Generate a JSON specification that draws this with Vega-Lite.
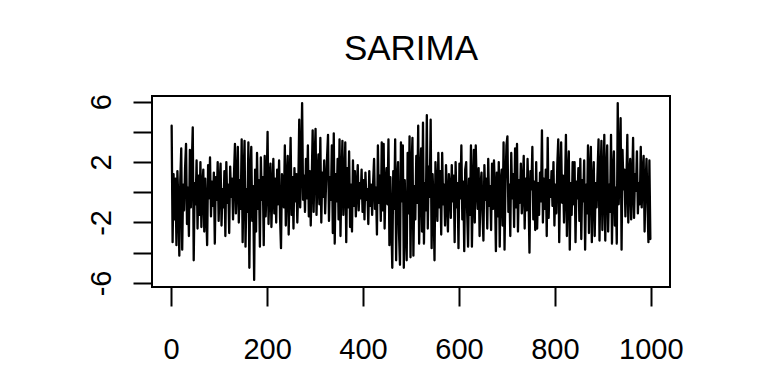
{
"$schema": "https://vega.github.io/schema/vega-lite/v6.json",
"width": 518, "height": 191,
"autosize": {"type": "none"},
"padding": {"left": 152, "top": 96, "right": 98, "bottom": 97},
"background": "white",
"title": {"text": "SARIMA", "fontSize": 35, "font": "Liberation Sans", "fontWeight": "normal", "color": "black", "anchor": "middle", "frame": "group", "baseline": "alphabetic", "offset": -1},
"data": {"values": [
{"t":1,"v":4.4},{"t":3,"v":-3.3},{"t":5,"v":1.2},{"t":7,"v":-1.8},{"t":9,"v":0.9},{"t":11,"v":-3.5},{"t":13,"v":1.4},{"t":15,"v":-0.6},{"t":17,"v":-4.2},{"t":19,"v":0.8},
{"t":21,"v":2.9},{"t":23,"v":-3.8},{"t":25,"v":0.5},{"t":27,"v":-1.2},{"t":29,"v":1.6},{"t":31,"v":3.2},{"t":33,"v":-2.1},{"t":35,"v":0.3},{"t":37,"v":-2.9},{"t":39,"v":2.8},
{"t":41,"v":-1.0},{"t":43,"v":1.8},{"t":45,"v":4.3},{"t":47,"v":-4.5},{"t":49,"v":0.6},{"t":51,"v":-0.8},{"t":53,"v":2.1},{"t":55,"v":-2.4},{"t":57,"v":1.1},{"t":59,"v":-1.5},
{"t":61,"v":2.0},{"t":63,"v":-2.3},{"t":65,"v":0.4},{"t":67,"v":1.5},{"t":69,"v":-2.6},{"t":71,"v":0.9},{"t":73,"v":-1.2},{"t":75,"v":-3.5},{"t":77,"v":1.8},{"t":79,"v":-0.4},
{"t":81,"v":2.3},{"t":83,"v":-1.6},{"t":85,"v":0.7},{"t":87,"v":-0.9},{"t":89,"v":1.3},{"t":91,"v":-3.4},{"t":93,"v":1.0},{"t":95,"v":-0.5},{"t":97,"v":2.0},{"t":99,"v":-1.9},
{"t":101,"v":0.6},{"t":103,"v":1.9},{"t":105,"v":-2.2},{"t":107,"v":0.2},{"t":109,"v":-1.0},{"t":111,"v":1.4},{"t":113,"v":-2.9},{"t":115,"v":2.0},{"t":117,"v":-0.7},{"t":119,"v":0.5},
{"t":121,"v":-2.7},{"t":123,"v":1.7},{"t":125,"v":-0.3},{"t":127,"v":0.9},{"t":129,"v":-1.8},{"t":131,"v":1.2},{"t":133,"v":3.2},{"t":135,"v":-1.4},{"t":137,"v":0.4},{"t":139,"v":3.0},
{"t":141,"v":-2.0},{"t":143,"v":0.8},{"t":145,"v":-1.1},{"t":147,"v":3.5},{"t":149,"v":-3.3},{"t":151,"v":1.0},{"t":153,"v":3.4},{"t":155,"v":-3.6},{"t":157,"v":0.2},{"t":159,"v":-1.3},
{"t":161,"v":3.3},{"t":163,"v":-5.0},{"t":165,"v":1.2},{"t":167,"v":3.0},{"t":169,"v":-1.9},{"t":171,"v":0.4},{"t":173,"v":-5.8},{"t":175,"v":1.5},{"t":177,"v":-2.6},{"t":179,"v":2.6},
{"t":181,"v":-1.1},{"t":183,"v":0.8},{"t":185,"v":-3.6},{"t":187,"v":2.3},{"t":189,"v":-0.5},{"t":191,"v":1.0},{"t":193,"v":-3.5},{"t":195,"v":2.4},{"t":197,"v":-1.6},{"t":199,"v":0.3},
{"t":201,"v":4.0},{"t":203,"v":-2.1},{"t":205,"v":0.6},{"t":207,"v":1.9},{"t":209,"v":-2.3},{"t":211,"v":0.1},{"t":213,"v":2.2},{"t":215,"v":-1.4},{"t":217,"v":0.9},{"t":219,"v":-2.0},
{"t":221,"v":1.5},{"t":223,"v":-0.8},{"t":225,"v":2.1},{"t":227,"v":-1.7},{"t":229,"v":-3.7},{"t":231,"v":1.2},{"t":233,"v":0.3},{"t":235,"v":-1.0},{"t":237,"v":3.1},{"t":239,"v":-2.2},
{"t":241,"v":0.7},{"t":243,"v":2.4},{"t":245,"v":-2.8},{"t":247,"v":0.5},{"t":249,"v":3.6},{"t":251,"v":-1.5},{"t":253,"v":1.0},{"t":255,"v":-2.4},{"t":257,"v":1.6},{"t":259,"v":-0.6},
{"t":261,"v":1.2},{"t":263,"v":-2.0},{"t":265,"v":0.3},{"t":267,"v":4.8},{"t":269,"v":-1.0},{"t":271,"v":1.8},{"t":273,"v":5.9},{"t":275,"v":-0.5},{"t":277,"v":1.1},{"t":279,"v":-1.3},
{"t":281,"v":2.2},{"t":283,"v":-0.4},{"t":285,"v":3.1},{"t":287,"v":-1.6},{"t":289,"v":1.4},{"t":291,"v":-2.2},{"t":293,"v":0.8},{"t":295,"v":4.1},{"t":297,"v":-1.3},{"t":299,"v":2.0},
{"t":301,"v":4.2},{"t":303,"v":-1.5},{"t":305,"v":0.9},{"t":307,"v":2.5},{"t":309,"v":-0.8},{"t":311,"v":3.6},{"t":313,"v":-2.0},{"t":315,"v":1.3},{"t":317,"v":-0.3},{"t":319,"v":2.1},
{"t":321,"v":-1.4},{"t":323,"v":0.6},{"t":325,"v":2.3},{"t":327,"v":3.8},{"t":329,"v":-1.9},{"t":331,"v":1.0},{"t":333,"v":-0.5},{"t":335,"v":3.1},{"t":337,"v":-2.7},{"t":339,"v":3.9},
{"t":341,"v":-3.4},{"t":343,"v":1.2},{"t":345,"v":-0.6},{"t":347,"v":2.2},{"t":349,"v":-1.8},{"t":351,"v":3.5},{"t":353,"v":-2.9},{"t":355,"v":0.8},{"t":357,"v":3.4},{"t":359,"v":-1.5},
{"t":361,"v":0.4},{"t":363,"v":3.3},{"t":365,"v":-3.3},{"t":367,"v":1.6},{"t":369,"v":-1.0},{"t":371,"v":2.7},{"t":373,"v":-2.3},{"t":375,"v":0.5},{"t":377,"v":-2.6},{"t":379,"v":2.1},
{"t":381,"v":-0.9},{"t":383,"v":1.4},{"t":385,"v":-1.6},{"t":387,"v":0.3},{"t":389,"v":1.8},{"t":391,"v":-1.2},{"t":393,"v":0.6},{"t":395,"v":-0.4},{"t":397,"v":1.5},{"t":399,"v":-1.3},
{"t":401,"v":0.8},{"t":403,"v":-1.8},{"t":405,"v":1.3},{"t":407,"v":-0.5},{"t":409,"v":0.2},{"t":411,"v":-2.1},{"t":413,"v":1.4},{"t":415,"v":-0.9},{"t":417,"v":0.5},{"t":419,"v":-1.5},
{"t":421,"v":0.6},{"t":423,"v":2.2},{"t":425,"v":-1.1},{"t":427,"v":0.3},{"t":429,"v":-2.8},{"t":431,"v":3.1},{"t":433,"v":-0.7},{"t":435,"v":1.1},{"t":437,"v":-1.9},{"t":439,"v":3.3},
{"t":441,"v":-1.2},{"t":443,"v":3.2},{"t":445,"v":-2.4},{"t":447,"v":0.5},{"t":449,"v":1.6},{"t":451,"v":-0.8},{"t":453,"v":3.5},{"t":455,"v":-3.5},{"t":457,"v":1.0},{"t":459,"v":-2.0},
{"t":461,"v":-5.0},{"t":463,"v":1.4},{"t":465,"v":-1.1},{"t":467,"v":3.5},{"t":469,"v":-4.5},{"t":471,"v":0.7},{"t":473,"v":2.0},{"t":475,"v":-2.7},{"t":477,"v":-4.8},{"t":479,"v":3.3},
{"t":481,"v":-0.6},{"t":483,"v":3.1},{"t":485,"v":-5.0},{"t":487,"v":0.8},{"t":489,"v":-2.2},{"t":491,"v":-4.5},{"t":493,"v":2.6},{"t":495,"v":-1.4},{"t":497,"v":3.7},{"t":499,"v":-4.3},
{"t":501,"v":1.5},{"t":503,"v":3.6},{"t":505,"v":-4.2},{"t":507,"v":0.4},{"t":509,"v":-1.8},{"t":511,"v":2.4},{"t":513,"v":-0.7},{"t":515,"v":4.4},{"t":517,"v":-3.4},{"t":519,"v":1.0},
{"t":521,"v":2.9},{"t":523,"v":-2.6},{"t":525,"v":4.6},{"t":527,"v":-3.4},{"t":529,"v":0.6},{"t":531,"v":-1.2},{"t":533,"v":5.1},{"t":535,"v":-2.4},{"t":537,"v":1.7},{"t":539,"v":-0.3},
{"t":541,"v":4.8},{"t":543,"v":-3.7},{"t":545,"v":1.2},{"t":547,"v":-0.6},{"t":549,"v":-4.5},{"t":551,"v":2.0},{"t":553,"v":0.3},{"t":555,"v":-1.9},{"t":557,"v":2.6},{"t":559,"v":-1.0},
{"t":561,"v":1.4},{"t":563,"v":-2.8},{"t":565,"v":2.6},{"t":567,"v":-0.8},{"t":569,"v":0.5},{"t":571,"v":-2.2},{"t":573,"v":1.8},{"t":575,"v":-0.4},{"t":577,"v":-2.6},{"t":579,"v":1.2},
{"t":581,"v":0.3},{"t":583,"v":-1.7},{"t":585,"v":1.8},{"t":587,"v":-0.6},{"t":589,"v":1.1},{"t":591,"v":-3.3},{"t":593,"v":2.0},{"t":595,"v":-1.0},{"t":597,"v":0.6},{"t":599,"v":-3.7},
{"t":601,"v":1.9},{"t":603,"v":-0.4},{"t":605,"v":3.1},{"t":607,"v":-1.8},{"t":609,"v":0.7},{"t":611,"v":-3.9},{"t":613,"v":1.5},{"t":615,"v":2.0},{"t":617,"v":-1.2},{"t":619,"v":-3.6},
{"t":621,"v":0.9},{"t":623,"v":-1.5},{"t":625,"v":3.1},{"t":627,"v":-3.6},{"t":629,"v":0.2},{"t":631,"v":2.8},{"t":633,"v":-2.0},{"t":635,"v":3.1},{"t":637,"v":0.4},{"t":639,"v":-1.1},
{"t":641,"v":1.6},{"t":643,"v":-2.9},{"t":645,"v":0.5},{"t":647,"v":1.3},{"t":649,"v":-1.4},{"t":651,"v":-3.2},{"t":653,"v":1.8},{"t":655,"v":-0.5},{"t":657,"v":0.9},{"t":659,"v":-2.4},
{"t":661,"v":2.2},{"t":663,"v":-0.9},{"t":665,"v":0.4},{"t":667,"v":-2.5},{"t":669,"v":1.9},{"t":671,"v":-1.1},{"t":673,"v":2.1},{"t":675,"v":0.1},{"t":677,"v":-3.9},{"t":679,"v":1.3},
{"t":681,"v":-1.6},{"t":683,"v":2.0},{"t":685,"v":-3.6},{"t":687,"v":0.7},{"t":689,"v":1.5},{"t":691,"v":-2.2},{"t":693,"v":3.3},{"t":695,"v":-3.8},{"t":697,"v":0.6},{"t":699,"v":3.1},
{"t":701,"v":3.7},{"t":703,"v":-1.3},{"t":705,"v":0.5},{"t":707,"v":-2.9},{"t":709,"v":2.6},{"t":711,"v":-0.4},{"t":713,"v":1.2},{"t":715,"v":-2.3},{"t":717,"v":2.9},{"t":719,"v":-1.0},
{"t":721,"v":3.2},{"t":723,"v":-2.6},{"t":725,"v":0.8},{"t":727,"v":-0.7},{"t":729,"v":1.9},{"t":731,"v":-1.4},{"t":733,"v":0.3},{"t":735,"v":2.4},{"t":737,"v":-2.4},{"t":739,"v":0.9},
{"t":741,"v":-1.2},{"t":743,"v":2.2},{"t":745,"v":-0.3},{"t":747,"v":-4.0},{"t":749,"v":1.4},{"t":751,"v":0.2},{"t":753,"v":3.0},{"t":755,"v":-1.8},{"t":757,"v":0.7},{"t":759,"v":-2.5},
{"t":761,"v":2.0},{"t":763,"v":-2.4},{"t":765,"v":0.6},{"t":767,"v":-1.5},{"t":769,"v":1.3},{"t":771,"v":-0.6},{"t":773,"v":4.1},{"t":775,"v":-2.0},{"t":777,"v":0.9},{"t":779,"v":-1.1},
{"t":781,"v":1.5},{"t":783,"v":-2.9},{"t":785,"v":3.6},{"t":787,"v":-1.7},{"t":789,"v":0.8},{"t":791,"v":-0.3},{"t":793,"v":1.4},{"t":795,"v":-0.9},{"t":797,"v":2.0},{"t":799,"v":-2.2},
{"t":801,"v":0.5},{"t":803,"v":-1.4},{"t":805,"v":1.8},{"t":807,"v":3.5},{"t":809,"v":-3.3},{"t":811,"v":0.9},{"t":813,"v":3.3},{"t":815,"v":-0.7},{"t":817,"v":1.1},{"t":819,"v":-2.0},
{"t":821,"v":0.3},{"t":823,"v":3.8},{"t":825,"v":-2.9},{"t":827,"v":1.0},{"t":829,"v":2.7},{"t":831,"v":-3.8},{"t":833,"v":0.6},{"t":835,"v":-1.5},{"t":837,"v":2.0},{"t":839,"v":-0.8},
{"t":841,"v":2.0},{"t":843,"v":-3.3},{"t":845,"v":0.7},{"t":847,"v":-0.4},{"t":849,"v":1.6},{"t":851,"v":-1.9},{"t":853,"v":2.2},{"t":855,"v":-3.1},{"t":857,"v":0.8},{"t":859,"v":-0.6},
{"t":861,"v":2.1},{"t":863,"v":-3.8},{"t":865,"v":0.5},{"t":867,"v":-1.4},{"t":869,"v":3.1},{"t":871,"v":-2.7},{"t":873,"v":1.2},{"t":875,"v":3.0},{"t":877,"v":-3.3},{"t":879,"v":0.4},
{"t":881,"v":2.0},{"t":883,"v":-2.9},{"t":885,"v":0.6},{"t":887,"v":-1.0},{"t":889,"v":1.4},{"t":891,"v":3.5},{"t":893,"v":-3.2},{"t":895,"v":0.9},{"t":897,"v":3.4},{"t":899,"v":-2.5},
{"t":901,"v":0.4},{"t":903,"v":3.8},{"t":905,"v":-3.2},{"t":907,"v":1.1},{"t":909,"v":3.1},{"t":911,"v":-2.6},{"t":913,"v":0.5},{"t":915,"v":-1.3},{"t":917,"v":3.8},{"t":919,"v":-3.4},
{"t":921,"v":1.2},{"t":923,"v":2.7},{"t":925,"v":-2.2},{"t":927,"v":0.3},{"t":929,"v":-3.4},{"t":931,"v":5.9},{"t":933,"v":-0.8},{"t":935,"v":1.6},{"t":937,"v":4.9},{"t":939,"v":-3.8},
{"t":941,"v":2.8},{"t":943,"v":0.2},{"t":945,"v":1.5},{"t":947,"v":-1.6},{"t":949,"v":0.6},{"t":951,"v":3.8},{"t":953,"v":-2.0},{"t":955,"v":1.0},{"t":957,"v":2.2},{"t":959,"v":-1.8},
{"t":961,"v":0.4},{"t":963,"v":3.6},{"t":965,"v":-1.7},{"t":967,"v":1.2},{"t":969,"v":0.1},{"t":971,"v":2.7},{"t":973,"v":-1.4},{"t":975,"v":0.6},{"t":977,"v":-0.8},{"t":979,"v":3.0},
{"t":981,"v":-1.0},{"t":983,"v":1.3},{"t":985,"v":2.4},{"t":987,"v":-2.6},{"t":989,"v":0.5},{"t":991,"v":2.2},{"t":993,"v":-0.7},{"t":995,"v":-3.3},{"t":997,"v":2.1},{"t":999,"v":-3.1}
]},
"mark": {"type": "line", "color": "black", "strokeWidth": 2.3, "strokeJoin": "round", "strokeCap": "round", "interpolate": "linear", "clip": true},
"encoding": {
  "x": {"field": "t", "type": "quantitative",
    "scale": {"domain": [-39.96, 1039.96], "nice": false, "zero": false},
    "axis": {"values": [0, 200, 400, 600, 800, 1000], "format": "d", "title": null, "grid": false, "domain": false,
      "tickSize": 19, "tickWidth": 2, "tickColor": "black",
      "labelFont": "Liberation Sans", "labelFontSize": 29, "labelColor": "black",
      "labelBaseline": "alphabetic", "labelPadding": 52, "labelFlush": false, "labelOverlap": false}},
  "y": {"field": "v", "type": "quantitative",
    "scale": {"domain": [-6.27, 6.37], "nice": false, "zero": false},
    "axis": {"values": [-6, -4, -2, 0, 2, 4, 6], "labelExpr": "datum.value % 4 == 0 ? '' : toString(datum.value)",
      "title": null, "grid": false, "domain": false,
      "tickSize": 19, "tickWidth": 2, "tickColor": "black",
      "labelFont": "Liberation Sans", "labelFontSize": 29, "labelColor": "black",
      "labelAngle": 270, "labelAlign": "center", "labelBaseline": "alphabetic", "labelPadding": 23,
      "labelFlush": false, "labelOverlap": false}}
},
"config": {"view": {"stroke": "black", "strokeWidth": 2}}
}
